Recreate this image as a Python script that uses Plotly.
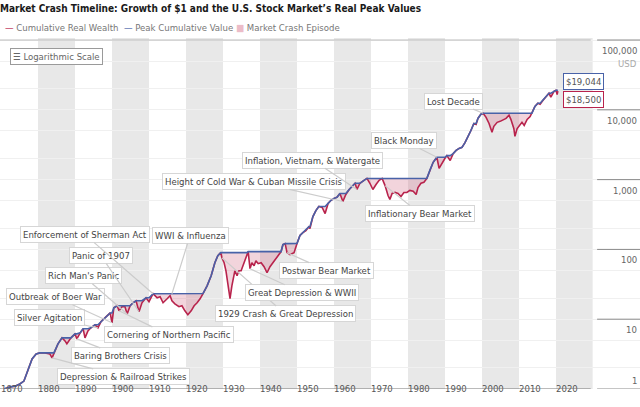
import numpy as np
import plotly.graph_objects as go

# ---------------- data ----------------
years = [1870.8, 1872.4, 1873.8, 1875.1, 1876.2, 1877.3, 1878.4, 1879.5, 1880.5, 1881.9,
         1883.2, 1883.8, 1884.3, 1885.4, 1886.5, 1887.3, 1887.8, 1888.9, 1890.0, 1890.5,
         1891.4, 1892.2, 1892.7, 1893.5, 1894.3, 1895.4, 1896.2, 1897.0, 1897.8, 1898.6,
         1899.5, 1900.0, 1900.5, 1901.4, 1901.9, 1902.7, 1903.5, 1904.1, 1904.9, 1905.7,
         1906.5, 1907.3, 1908.1, 1909.2, 1910.0, 1911.1, 1912.2, 1913.0, 1913.8, 1914.9,
         1915.7, 1916.2, 1917.0, 1918.1, 1918.9, 1919.7, 1920.5, 1921.4, 1922.2, 1923.0,
         1923.8, 1924.6, 1925.7, 1926.8, 1927.8, 1928.6, 1929.4, 1929.7, 1930.3, 1930.8,
         1931.4, 1931.6, 1931.9, 1932.4, 1932.7, 1933.2, 1933.8, 1934.3, 1934.9, 1935.4,
         1935.9, 1936.5, 1936.8, 1937.3, 1937.8, 1938.4, 1938.9, 1939.5, 1940.3, 1941.1,
         1941.9, 1942.7, 1943.5, 1944.3, 1945.1, 1945.7, 1946.2, 1946.8, 1947.3, 1948.1,
         1948.6, 1949.2, 1950.0, 1950.8, 1951.6, 1952.4, 1953.2, 1953.5, 1954.3, 1955.1,
         1955.9, 1956.8, 1957.6, 1958.4, 1959.2, 1960.0, 1960.8, 1961.6, 1962.4, 1963.2,
         1964.1, 1964.9, 1965.7, 1966.2, 1967.0, 1968.1, 1968.9, 1969.7, 1970.5, 1971.4,
         1972.2, 1973.0, 1973.8, 1974.6, 1975.1, 1975.7, 1976.5, 1977.3, 1978.1, 1978.9,
         1979.7, 1980.5, 1981.4, 1982.2, 1982.7, 1983.5, 1984.3, 1985.1, 1985.9, 1986.8,
         1987.6, 1987.8, 1988.4, 1989.2, 1990.0, 1990.5, 1991.4, 1992.2, 1993.0, 1993.8,
         1994.6, 1995.4, 1996.2, 1997.0, 1997.8, 1998.4, 1998.9, 1999.7, 2000.3, 2001.1,
         2001.9, 2002.7, 2003.2, 2004.1, 2004.9, 2005.7, 2006.5, 2007.3, 2007.8, 2008.6,
         2008.9, 2009.5, 2010.3, 2010.8, 2011.4, 2012.2, 2013.0, 2013.5, 2014.3, 2015.1,
         2015.7, 2016.5, 2017.3, 2018.1, 2018.6, 2019.5, 2020.0, 2020.3, 2020.5]

wealth = [1.00, 1.07, 1.10, 1.18, 1.30, 1.94, 2.70, 3.18, 3.29, 3.29,
          3.18, 2.79, 3.29, 4.43, 5.40, 4.89, 4.43, 5.40, 6.17, 5.23,
          6.38, 7.29, 5.40, 6.81, 7.53, 8.31, 7.53, 9.18, 10.1, 11.2,
          12.3, 8.88, 14.6, 15.6, 13.2, 15.1, 15.1, 11.9, 15.6, 17.2,
          18.4, 12.8, 17.2, 20.3, 17.8, 23.2, 20.3, 21.0, 17.2, 19.6,
          21.7, 18.4, 16.6, 15.1, 15.6, 13.2, 11.6, 13.2, 15.6, 17.2,
          19.6, 23.3, 30.1, 41.9, 64.5, 81.2, 89.9, 76.1, 64.5, 49.4,
          30.1, 23.2, 19.7, 30.1, 38.0, 49.4, 41.9, 49.4, 49.4, 58.4,
          73.5, 89.9, 93.0, 52.8, 64.5, 58.4, 68.9, 62.5, 64.5, 56.4,
          46.3, 56.4, 64.5, 73.5, 84.1, 93.1, 117, 121, 89.9, 84.1,
          86.9, 89.9, 121.5, 158, 174, 186, 211, 199, 295, 360,
          412, 399, 326, 456, 505, 539, 557, 633, 486, 612,
          722, 800, 886, 722, 886, 976, 1040, 886, 722, 857,
          976, 1041, 820, 592, 520, 633, 655, 633, 572, 655,
          655, 700, 680, 612, 770, 886, 915, 1042, 1357, 1770,
          2020, 2090, 1450, 1740, 2020, 2210, 1880, 2360, 2620, 2800,
          2900, 3390, 4040, 5050, 6370, 6170, 7530, 8640, 8920, 7790,
          6370, 4780, 5800, 6620, 6830, 7080, 7530, 8360, 7300, 5400,
          4160, 5400, 6170, 6620, 5970, 7300, 8000, 8930, 11200, 12400,
          12000, 13700, 15600, 17300, 15200, 18500, 19044, 16500, 18500]

peak = np.maximum.accumulate(np.array(wealth, dtype=float))

decade_ticks = list(range(1870, 2030, 10))
shaded_decades = list(range(1880, 2030, 20))
usd_ticks = [1, 10, 100, 1000, 10000, 100000]
usd_labels = ["1", "10", "100", "1,000", "10,000", "100,000"]

# callouts: text, event (year, value), box centre (year, value)
callouts = [
    ("Silver Agitation", 1896.2, 7.53, 1883.0, 10.45),
    ("Outbreak of Boer War", 1900.0, 8.88, 1884.6, 21.0),
    ("Rich Man's Panic", 1904.1, 11.9, 1892.2, 42.0),
    ("Panic of 1907", 1907.3, 12.8, 1897.0, 81.5),
    ("Enforcement of Sherman Act", 1911.1, 23.2, 1892.7, 163),
    ("WWI & Influenza", 1916.2, 23.2, 1921.1, 158),
    ("Cornering of Northern Pacific", 1901.9, 13.2, 1915.4, 5.97),
    ("Baring Brothers Crisis", 1890.5, 5.23, 1902.4, 2.98),
    ("Depression & Railroad Strikes", 1883.8, 2.79, 1903.0, 1.49),
    ("1929 Crash & Great Depression", 1929.7, 76.1, 1946.8, 11.9),
    ("Great Depression & WWII", 1937.3, 52.8, 1951.4, 23.9),
    ("Postwar Bear Market", 1947.3, 89.9, 1958.1, 49.7),
    ("Height of Cold War & Cuban Missile Crisis", 1962.4, 486, 1938.4, 944),
    ("Inflation, Vietnam, & Watergate", 1966.2, 722, 1954.3, 1900),
    ("Inflationary Bear Market", 1973.8, 820, 1983.2, 327),
    ("Black Monday", 1987.8, 2090, 1978.9, 3640),
    ("Lost Decade", 2000.3, 8920, 1992.4, 13300),
]

legend_items = [("Cumulative Real Wealth", "\u2014", "#b8234c", 0.004),
                ("Peak Cumulative Value", "\u2014", "#4862a8", 0.19),
                ("Market Crash Episode", "\u25a0", "#ecbcc8", 0.366)]

RED = "#b8234c"
BLUE = "#4862a8"
PINK = "rgba(214,120,146,0.32)"
FONT = "DejaVu Sans Condensed, Arial Narrow, sans-serif"

fig = go.Figure()
fig.add_trace(go.Scatter(x=years, y=wealth, mode="lines", line=dict(width=0),
                         showlegend=False, hoverinfo="skip"))
fig.add_trace(go.Scatter(x=years, y=peak, mode="lines", line=dict(width=0),
                         fill="tonexty", fillcolor=PINK, name="Market Crash Episode"))
fig.add_trace(go.Scatter(x=years, y=wealth, mode="lines", line=dict(color=RED, width=1.6),
                         name="Cumulative Real Wealth"))
fig.add_trace(go.Scatter(x=years, y=peak, mode="lines", line=dict(color=BLUE, width=1.6),
                         name="Peak Cumulative Value"))

shapes = []
for d in shaded_decades:
    shapes.append(dict(type="rect", xref="x", yref="paper", x0=d, x1=d + 10, y0=0, y1=1,
                       fillcolor="#e8e8e8", line=dict(width=0), layer="below"))
# white right-hand axis area
shapes.append(dict(type="rect", xref="paper", yref="paper", x0=0.926, x1=1, y0=0, y1=1,
                   fillcolor="white", line=dict(width=0), layer="between"))
for v in usd_ticks:
    shapes.append(dict(type="line", xref="paper", yref="y", x0=0.933, x1=1, y0=v, y1=v,
                       line=dict(color="#8a8a8a", width=1), layer="above"))
shapes.append(dict(type="line", xref="paper", yref="y", x0=0, x1=0.923, y0=1, y1=1,
                   line=dict(color="#777777", width=1.2), layer="above"))
shapes.append(dict(type="line", xref="paper", yref="y", x0=0, x1=0.923, y0=100000, y1=100000,
                   line=dict(color="#bbbbbb", width=1), layer="above"))

annotations = []
for text, ex, ev, bx, bv in callouts:
    annotations.append(dict(x=ex, y=np.log10(ev), xref="x", yref="y",
                            ax=bx, ay=np.log10(bv), axref="x", ayref="y",
                            text=text, showarrow=True, arrowhead=0, arrowwidth=1.2,
                            arrowcolor="#cccccc", standoff=0,
                            bgcolor="white", bordercolor="#d6d6d6", borderwidth=1,
                            borderpad=2, font=dict(family=FONT, size=9.5, color="#444444")))

for v, lab in zip(usd_ticks, usd_labels):
    top = v != 1
    annotations.append(dict(x=1, y=np.log10(v), xref="paper", yref="y",
                            xanchor="right", yanchor="top" if top else "bottom",
                            yshift=-3 if top else 1, xshift=-1,
                            text=lab, showarrow=False,
                            font=dict(family=FONT, size=9.5, color="#666666")))
annotations.append(dict(x=1, y=np.log10(100000), xref="paper", yref="y",
                        xanchor="right", yanchor="top", yshift=-16, xshift=-1,
                        text="USD", showarrow=False,
                        font=dict(family=FONT, size=9.5, color="#aaaaaa")))

annotations.append(dict(x=years[-1], y=np.log10(peak[-1]), xref="x", yref="y",
                        xanchor="left", yanchor="middle", xshift=5, yshift=9,
                        text="$19,044", showarrow=False, bgcolor="white",
                        bordercolor=BLUE, borderwidth=1, borderpad=2,
                        font=dict(family=FONT, size=9.5, color="#555555")))
annotations.append(dict(x=years[-1], y=np.log10(wealth[-1]), xref="x", yref="y",
                        xanchor="left", yanchor="middle", xshift=5, yshift=-8,
                        text="$18,500", showarrow=False, bgcolor="white",
                        bordercolor=RED, borderwidth=1, borderpad=2,
                        font=dict(family=FONT, size=9.5, color="#555555")))
annotations.append(dict(x=0.016, y=0.972, xref="paper", yref="paper",
                        xanchor="left", yanchor="top",
                        text="\u2630 Logarithmic Scale", showarrow=False,
                        bgcolor="white", bordercolor="#9a9a9a", borderwidth=1, borderpad=2,
                        font=dict(family=FONT, size=9.5, color="#666666")))

for name, glyph, col, xpos in legend_items:
    annotations.append(dict(x=xpos, y=1.0285, xref="paper", yref="paper",
                            xanchor="left", yanchor="middle", showarrow=False,
                            text=f"<span style='color:{col}'>{glyph}</span> {name}",
                            font=dict(family=FONT, size=9.5, color="#777777")))

fig.update_layout(
    width=640, height=407,
    margin=dict(l=0, r=0, t=38, b=18),
    paper_bgcolor="white", plot_bgcolor="white",
    showlegend=False,
    title=dict(text="<b>Market Crash Timeline: Growth of $1 and the U.S. Stock Market\u2019s Real Peak Values</b>",
               x=0.0, xanchor="left", y=0.98, yanchor="middle", yref="container",
               font=dict(family=FONT, size=10, color="#1a1a1a")),
    xaxis=dict(range=[1869.73, 2042.7], tickvals=decade_ticks, ticktext=[str(t) for t in decade_ticks],
               ticklabelposition="outside right", ticklabelstandoff=-8, showgrid=False, zeroline=False,
               showline=False, ticks="", tickfont=dict(family=FONT, size=9.5, color="#555555")),
    yaxis=dict(type="log", range=[0, 5.029], showticklabels=False, showgrid=True,
               gridcolor="#f0f0f0", gridwidth=1, zeroline=False, showline=False, ticks="",
               minor=dict(showgrid=True, gridcolor="#f3f3f3", dtick="D2")),
    shapes=shapes, annotations=annotations,
)

fig.write_html("out.html", config={"displayModeBar": False},
               post_script="document.body.style.margin='0';document.body.style.overflow='hidden';")
